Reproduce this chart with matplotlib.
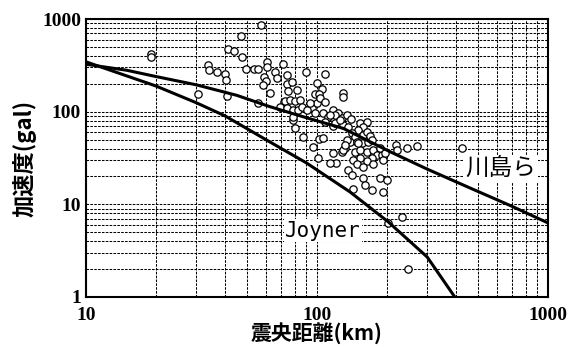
import matplotlib.pyplot as plt
from matplotlib.ticker import NullFormatter

# observed records: epicentral distance (km) and peak acceleration (gal)
dist = [19.1, 19.1, 30.5, 33.8, 34.1, 36.9, 40.0, 40.5, 41.2, 43.7,
        47.0, 47.3, 40.8, 49.3, 53.5, 55.6, 57.2, 55.6, 60.8, 60.8,
        59.0, 60.1, 58.4, 62.6, 65.8, 67.1, 71.2, 74.1, 74.1, 77.9,
        81.9, 74.8, 71.9, 69.2, 89.6, 108, 100, 105, 98, 102,
        130, 130, 72.6, 76.4, 80.3, 84.4, 74.1, 78.7, 82.7, 86.1,
        95.1, 100, 98, 106, 112, 117, 123, 128, 135, 140,
        153, 165, 108, 117, 78.7, 80.3, 86.9, 96.1, 102, 106,
        101, 117, 121, 128, 132, 120, 130, 136, 120, 158,
        150, 142, 146, 158, 165, 139, 135, 149, 157, 166,
        170, 173, 130, 146, 153, 165, 175, 182, 173, 165,
        153, 143, 149, 158, 175, 191, 193, 187, 197, 220,
        222, 245, 271, 425, 114, 136, 142, 158, 161, 173,
        187, 201, 193, 143, 233, 203, 248, 90.5, 78.7, 132,
        150, 103, 108, 93, 114, 126]
acc = [415, 389, 155, 319, 282, 268, 255, 220, 474, 451,
       656, 389, 148, 289, 289, 289, 861, 124, 344, 304,
       237, 214, 194, 159, 268, 231, 327, 249, 199, 209,
       171, 167, 127, 112, 268, 255, 204, 176, 155, 155,
       159, 144, 130, 134, 130, 134, 110, 104, 104, 112,
       110, 124, 97, 97, 88, 104, 97, 86, 92, 83,
       76, 77, 77, 70, 81, 67, 53, 42, 51, 52,
       32, 36, 28, 37, 41, 92, 72, 68, 76, 68,
       64, 59, 53, 56, 60, 47, 50, 47, 46, 47,
       55, 50, 39, 37, 39, 37, 39, 34, 32, 29,
       32, 30, 27, 25, 27, 34, 30, 41, 36, 44,
       39, 41, 43, 41, 28, 23.5, 20.8, 19.3, 16.2, 14.3,
       19.3, 18.3, 13.6, 14.6, 7.3, 6.3, 2.0, 104, 88, 44,
       46, 140, 127, 124, 92, 81]

# attenuation curves
kawa_x = [10, 15, 20, 30, 45, 62, 90, 130, 207, 300, 460, 700, 1000]
kawa_y = [325, 280, 240, 195, 150, 114, 86, 66, 37, 24, 15, 9.5, 6.3]
joy_x = [10, 20, 30, 40, 60, 90, 139, 203, 300, 395]
joy_y = [345, 190, 125, 90, 50, 28, 13.6, 6.5, 2.7, 1.0]

fig = plt.figure(figsize=(5.71, 3.47), dpi=100)
ax = fig.add_axes([0.1506, 0.1441, 0.8091, 0.8011])
ax.set_xscale('log')
ax.set_yscale('log')
ax.set_xlim(10, 1000)
ax.set_ylim(1, 1000)
ax.set_axisbelow(True)
ax.grid(True, which='both', color='black', lw=0.75, ls=(0, (2.5, 1.2)))

ax.scatter(dist, acc, s=28, facecolors='white', edgecolors='black',
           linewidths=0.9, zorder=3)
ax.plot(kawa_x, kawa_y, color='black', lw=2.2, zorder=4)
ax.plot(joy_x, joy_y, color='black', lw=2.2, zorder=4)

ax.text(106, 5.2, 'Joyner', family='DejaVu Sans Mono', fontsize=15,
        ha='center', va='center', zorder=5,
        bbox=dict(fc='white', ec='none', pad=1))
ax.text(625, 24, '川島ら', family='Noto Sans CJK JP', fontsize=17,
        ha='center', va='center', zorder=5,
        bbox=dict(fc='white', ec='none', pad=1))

ax.set_xticks([10, 100, 1000])
ax.set_xticklabels(['10', '100', '1000'])
ax.set_yticks([1, 10, 100, 1000])
ax.set_yticklabels(['1', '10', '100', '1000'])
ax.xaxis.set_minor_formatter(NullFormatter())
ax.yaxis.set_minor_formatter(NullFormatter())
ax.tick_params(which='both', length=0, labelsize=14)
ax.tick_params(axis='x', pad=7)
for lab in ax.get_xticklabels() + ax.get_yticklabels():
    lab.set_family('Liberation Serif')
    lab.set_weight('bold')

for sp in ax.spines.values():
    sp.set_linewidth(1.5)

ax.set_xlabel('震央距離(km)', family='Noto Sans CJK JP', fontsize=15,
              weight='bold', labelpad=-1)
ax.set_ylabel('加速度(gal)', family='Noto Sans CJK JP', fontsize=16,
              weight='bold', labelpad=4)

fig.savefig('out.png', dpi=100)
